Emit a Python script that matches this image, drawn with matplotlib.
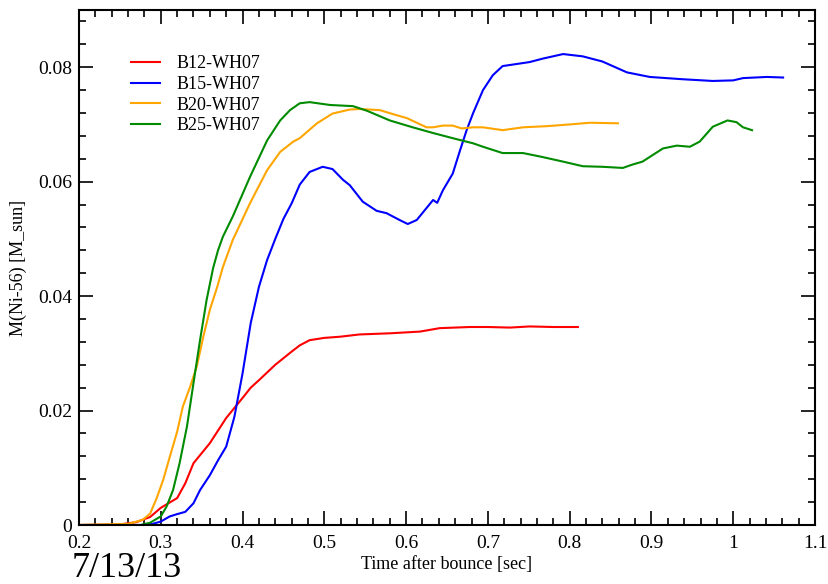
import matplotlib
matplotlib.use('Agg')
import matplotlib.pyplot as plt
from matplotlib.ticker import MultipleLocator, FuncFormatter

plt.rcParams['font.family'] = ['Liberation Serif', 'DejaVu Serif']

# time after bounce [sec] and M(Ni-56) [M_sun]
t_b12 = [0.20, 0.25, 0.27, 0.287, 0.30, 0.32, 0.33, 0.34, 0.36, 0.38, 0.40, 0.41, 0.42, 0.44, 0.46,
         0.47, 0.482, 0.50, 0.519, 0.543, 0.58, 0.617, 0.641, 0.678, 0.70, 0.727, 0.751, 0.78, 0.81]
m_b12 = [0.0, 0.0001, 0.0005, 0.0014, 0.003, 0.0047, 0.0073, 0.0108, 0.0143, 0.0187, 0.0222, 0.024, 0.0253,
         0.028, 0.0303, 0.0314, 0.0323, 0.0327, 0.0329, 0.0333, 0.0335, 0.0338, 0.0344, 0.0346, 0.0346,
         0.0345, 0.0347, 0.0346, 0.0346]

t_b15 = [0.20, 0.28, 0.29, 0.30, 0.311, 0.32, 0.33, 0.34, 0.348, 0.36, 0.37, 0.38, 0.39, 0.40, 0.41, 0.42,
         0.43, 0.44, 0.45, 0.46, 0.47, 0.482, 0.498, 0.51, 0.523, 0.531, 0.547, 0.564, 0.576, 0.592, 0.602,
         0.613, 0.625, 0.633, 0.638, 0.645, 0.657, 0.666, 0.674, 0.682, 0.694, 0.706, 0.718, 0.751, 0.767,
         0.792, 0.816, 0.84, 0.87, 0.898, 0.938, 0.975, 1.0, 1.012, 1.041, 1.061]
m_b15 = [0.0, 0.0, 0.0002, 0.0006, 0.0015, 0.0019, 0.0023, 0.0038, 0.0061, 0.0087, 0.0113, 0.0137, 0.0189,
         0.0265, 0.0353, 0.0416, 0.0463, 0.050, 0.0535, 0.0562, 0.0595, 0.0617, 0.0626, 0.0622, 0.0603,
         0.0594, 0.0565, 0.0549, 0.0545, 0.0533, 0.0526, 0.0533, 0.0554, 0.0568, 0.0563, 0.0585, 0.0614,
         0.0655, 0.069, 0.072, 0.076, 0.0786, 0.0802, 0.0809, 0.0815, 0.0823, 0.0819, 0.0810, 0.0791,
         0.0783, 0.0779, 0.0776, 0.0777, 0.0781, 0.0783, 0.0782]

t_b20 = [0.20, 0.26, 0.278, 0.287, 0.295, 0.303, 0.311, 0.32, 0.327, 0.336, 0.344, 0.352, 0.36, 0.369,
         0.376, 0.388, 0.409, 0.43, 0.446, 0.462, 0.47, 0.491, 0.51, 0.531, 0.543, 0.568, 0.584, 0.601,
         0.625, 0.633, 0.645, 0.657, 0.668, 0.682, 0.694, 0.718, 0.743, 0.772, 0.80, 0.825, 0.859]
m_b20 = [0.0, 0.0002, 0.0009, 0.002, 0.0047, 0.0079, 0.0119, 0.0163, 0.0207, 0.0242, 0.0277, 0.0329, 0.0376,
         0.0416, 0.0451, 0.0498, 0.0562, 0.062, 0.0652, 0.067, 0.0676, 0.0702, 0.0719, 0.0726, 0.0727,
         0.0725, 0.0718, 0.0711, 0.0695, 0.0695, 0.0698, 0.0698, 0.0693, 0.0695, 0.0695, 0.069, 0.0695,
         0.0697, 0.070, 0.0703, 0.0702]

t_b25 = [0.20, 0.275, 0.287, 0.30, 0.307, 0.315, 0.323, 0.332, 0.34, 0.348, 0.356, 0.364, 0.37, 0.376,
         0.388, 0.409, 0.43, 0.446, 0.458, 0.47, 0.482, 0.507, 0.535, 0.552, 0.58, 0.608, 0.633, 0.657,
         0.682, 0.694, 0.718, 0.743, 0.767, 0.792, 0.816, 0.84, 0.865, 0.877, 0.889, 0.914, 0.931, 0.947,
         0.959, 0.975, 0.993, 1.004, 1.012, 1.023]
m_b25 = [0.0, 0.0, 0.0004, 0.0015, 0.0032, 0.0061, 0.0108, 0.0172, 0.0248, 0.0323, 0.0393, 0.0449, 0.048,
         0.0504, 0.0539, 0.0608, 0.0672, 0.0707, 0.0725, 0.0737, 0.0739, 0.0734, 0.0732, 0.0724, 0.0707,
         0.0695, 0.0685, 0.0676, 0.0667, 0.0661, 0.065, 0.065, 0.0643, 0.0635, 0.0627, 0.0626, 0.0624,
         0.063, 0.0635, 0.0658, 0.0663, 0.0661, 0.067, 0.0696, 0.0707, 0.0704, 0.0695, 0.069]

labels = ['B12-WH07', 'B15-WH07', 'B20-WH07', 'B25-WH07']
colors = ['#ff0000', '#0000ff', '#ffa500', '#008b00']

fig = plt.figure(figsize=(8.29, 5.84), dpi=100)
ax = fig.add_axes([79/829, 1-525/584, 736/829, 515/584])

series = [(t_b12, m_b12), (t_b15, m_b15), (t_b20, m_b20), (t_b25, m_b25)]
for (t, m), lab, c in zip(series, labels, colors):
    ax.plot(t, m, color=c, lw=1.5, label=lab)

ax.set_xlim(0.2, 1.1)
ax.set_ylim(0, 0.09)
ax.xaxis.set_major_locator(MultipleLocator(0.1))
ax.xaxis.set_minor_locator(MultipleLocator(0.02))
ax.yaxis.set_major_locator(MultipleLocator(0.02))
ax.yaxis.set_minor_locator(MultipleLocator(0.004))
fmt = FuncFormatter(lambda v, p: '%g' % round(v, 4))
ax.xaxis.set_major_formatter(fmt)
ax.yaxis.set_major_formatter(fmt)
ax.tick_params(which='both', direction='in', top=True, right=True, width=1.2, labelsize=14)
ax.tick_params(which='major', length=10)
ax.tick_params(axis='x', which='major', pad=7)
ax.tick_params(axis='y', which='major', pad=5)
ax.tick_params(which='minor', length=5)
for s in ax.spines.values():
    s.set_linewidth(1.5)

ax.set_xlabel('Time after bounce [sec]', fontsize=13, labelpad=3)
ax.set_ylabel('M(Ni-56) [M_sun]', fontsize=13, labelpad=8)

ax.legend(loc='upper left', bbox_to_anchor=(0.061, 0.926), frameon=False, fontsize=13,
          handlelength=1.6, handletextpad=0.9, labelspacing=0.2, borderaxespad=0)

fig.text(72/829, 0.012, '7/13/13', fontsize=26, ha='left', va='baseline')

fig.savefig('out.png', dpi=100)
